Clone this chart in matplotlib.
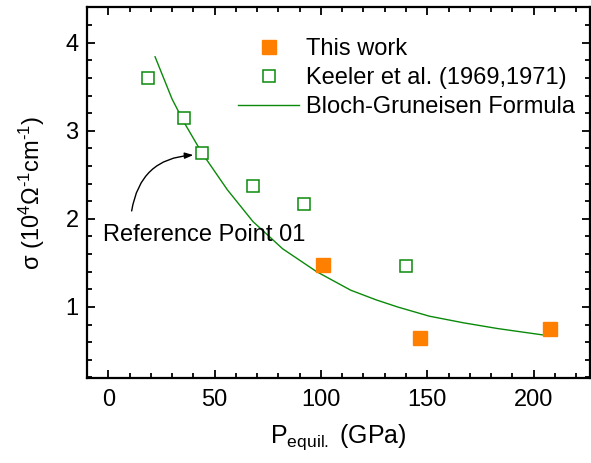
import matplotlib
matplotlib.use("Agg")
import matplotlib.pyplot as plt
from matplotlib.ticker import MultipleLocator

plt.rcParams['font.family'] = ['Liberation Sans', 'DejaVu Sans']
plt.rcParams['mathtext.fontset'] = 'custom'
plt.rcParams['mathtext.rm'] = 'Liberation Sans'
plt.rcParams['mathtext.it'] = 'Liberation Sans:italic'
plt.rcParams['mathtext.bf'] = 'Liberation Sans:bold'

# Data
this_work_p = [101.1, 146.6, 207.9]
this_work_sigma = [1.48, 0.65, 0.75]

keeler_p = [18.8, 35.7, 44.2, 68.2, 92.2, 139.9]
keeler_sigma = [3.60, 3.14, 2.75, 2.375, 2.17, 1.47]

bg_p = [22, 30, 36, 44, 56, 68, 82, 98, 114, 126, 136, 151, 167, 183, 205]
bg_sigma = [3.84, 3.36, 3.08, 2.75, 2.33, 1.97, 1.66, 1.40, 1.19, 1.08, 1.00, 0.895, 0.82, 0.755, 0.68]

green = '#0a8a0a'
orange = '#ff8000'

fig = plt.figure(figsize=(5.91, 4.63), dpi=100)
ax = fig.add_axes([87/591, 1-378.3/463, (590-87)/591, (378.3-7)/463])

ax.plot(bg_p, bg_sigma, '-', color=green, lw=1.0, label='Bloch-Gruneisen Formula', zorder=2)
ax.plot(this_work_p, this_work_sigma, 's', color=orange, ms=9.5, mec=orange, ls='none',
        label='This work', zorder=3)
ax.plot(keeler_p, keeler_sigma, 's', mfc='white', mec=green, mew=1.1, ms=8.8, ls='none',
        label='Keeler et al. (1969,1971)', zorder=3)

ax.set_xlim(-10, 226.5)
ax.set_ylim(0.19, 4.405)

ax.xaxis.set_major_locator(MultipleLocator(50))
ax.xaxis.set_minor_locator(MultipleLocator(10))
ax.yaxis.set_major_locator(MultipleLocator(1))
ax.yaxis.set_minor_locator(MultipleLocator(0.2))

ax.tick_params(which='both', direction='in', top=True, right=True, width=1.3, labelsize=17)
ax.tick_params(which='major', length=6)
ax.tick_params(which='minor', length=3.5)
ax.tick_params(axis='x', pad=8)
ax.tick_params(axis='y', pad=6)
for s in ax.spines.values():
    s.set_linewidth(1.6)

ax.set_xlabel('P$_{\\mathrm{equil.}}$ (GPa)', fontsize=18, labelpad=8)
ax.set_ylabel('σ (10$^{4}$Ω$^{\u2010 1}$cm$^{\u2010 1}$)', fontsize=17, labelpad=13)

handles, labels = ax.get_legend_handles_labels()
order = [1, 2, 0]
ax.legend([handles[i] for i in order], [labels[i] for i in order],
          loc='upper left', bbox_to_anchor=(0.300, 0.917), frameon=False,
          fontsize=17, handlelength=2.6, handletextpad=0.3, labelspacing=0.3,
          borderpad=0, borderaxespad=0)

ax.text(-2.6, 1.82, 'Reference Point 01', fontsize=17, ha='left', va='center')
ax.annotate('', xy=(40.0, 2.724), xytext=(11.0, 2.09),
            arrowprops=dict(arrowstyle='-|>,head_length=0.5,head_width=0.18', color='black',
                            lw=1.0, connectionstyle='arc3,rad=-0.4', shrinkA=0, shrinkB=0))

fig.savefig('out.png', dpi=100)
